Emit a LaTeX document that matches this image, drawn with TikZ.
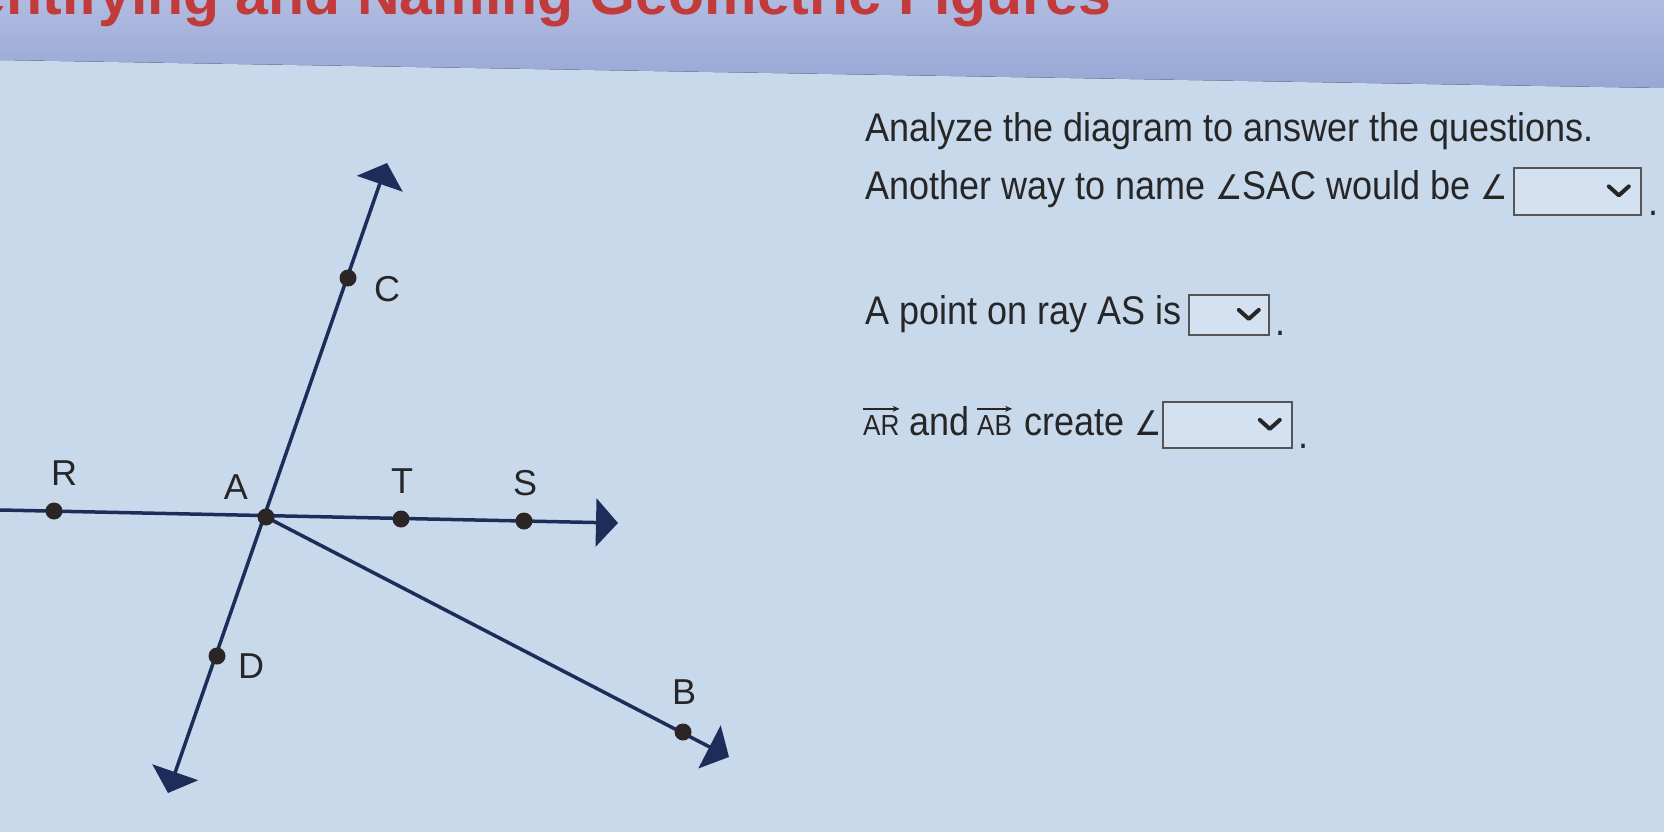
\documentclass[tikz,border=0pt]{standalone}
\usepackage{fontspec}
\setmainfont{Liberation Sans}
\newfontfamily\dejavu{DejaVu Sans}
\usetikzlibrary{arrows.meta}
\definecolor{bgc}{HTML}{C9D9EC}
\definecolor{bandtop}{HTML}{B0BBE0}
\definecolor{bandbot}{HTML}{96A7D5}
\definecolor{rayc}{HTML}{1C2D5A}
\definecolor{dotc}{HTML}{2B2525}
\definecolor{titlec}{HTML}{C23A3A}
\definecolor{txtc}{HTML}{262626}
\definecolor{boxc}{HTML}{555555}
\newcommand{\angsym}{{\dejavu\fontsize{34}{34}\selectfont ∠}}
\tikzset{
  ray/.style={draw=rayc, line width=3.5pt, line cap=round},
  tipbig/.style={-{Triangle[length=22pt,width=48pt]}},
  ptdot/.style={circle, fill=dotc, minimum size=17pt, inner sep=0pt},
  lbl/.style={font=\fontsize{36}{36}\selectfont, text=txtc, inner sep=0pt, anchor=center},
  qtxt/.style={font=\fontsize{40}{40}\selectfont, text=txtc, inner sep=0pt, anchor=base west, xscale=0.9, transform shape},
  vtxt/.style={font=\fontsize{29}{29}\selectfont, text=txtc, inner sep=0pt, anchor=base west, xscale=0.9, transform shape},
  ddbox/.style={draw=boxc, line width=1.8pt, fill=bgc!80!white, inner sep=0pt},
  chev/.style={draw=txtc, line width=4pt, line cap=round, line join=round},
  vecarr/.style={draw=txtc, line width=1.6pt, -{Stealth[length=7pt,width=6pt]}},
}
\begin{document}
\begin{tikzpicture}[x=1pt,y=-1pt]
\useasboundingbox (0,0) rectangle (1664,832);
\clip (0,0) rectangle (1664,832);
\fill[bgc] (0,0) rectangle (1664,832);
% top band
\fill[top color=bandtop, bottom color=bandbot] (0,0) -- (1664,0) -- (1664,88) -- (0,60) -- cycle;
\node[font=\bfseries\fontsize{59}{59}\selectfont, text=titlec, anchor=base west, inner sep=0pt] (title) at (-79,15) {Identifying and Naming Geometric Figures};

% coordinates
\coordinate (Lend) at (0,510);
\coordinate (Send) at (618,523);
\coordinate (Cend) at (387,163);
\coordinate (Dend) at (168,793);
\coordinate (Bend) at (729,757);
\coordinate (Apos) at (266,517);

% rays
\draw[ray, tipbig] (Lend) -- (Send);
\draw[ray, {Triangle[length=22pt,width=48pt]}-{Triangle[length=22pt,width=48pt]}] (Dend) -- (Cend);
\draw[ray, tipbig] (Apos) -- (Bend);

% points
\node[ptdot] (R) at (54,511) {};
\node[ptdot] (A) at (Apos) {};
\node[ptdot] (T) at (401,519) {};
\node[ptdot] (S) at (524,521) {};
\node[ptdot] (C) at (348,278) {};
\node[ptdot] (D) at (217,656) {};
\node[ptdot] (B) at (683,732) {};

% labels
\node[lbl] (lR) at (64,473) {R};
\node[lbl] (lA) at (236,487) {A};
\node[lbl] (lT) at (402,481) {T};
\node[lbl] (lS) at (525,483) {S};
\node[lbl] (lC) at (387,289) {C};
\node[lbl] (lD) at (251,666) {D};
\node[lbl] (lB) at (684,692) {B};

% questions
\node[qtxt] (q1) at (865,141) {Analyze the diagram to answer the questions.};
\node[qtxt] (q2) at (865,199) {Another way to name \angsym SAC would be \angsym};
\node[ddbox, minimum width=127pt, minimum height=47pt, anchor=north west] (box1) at (1513,167) {};
\draw[chev] ([xshift=-33pt,yshift=5pt]box1.east) -- ([xshift=-23pt,yshift=-4pt]box1.east) -- ([xshift=-13pt,yshift=5pt]box1.east);
\node[qtxt] (p1) at (box1.south east) {\,.};

\node[qtxt] (q3) at (865,324) {A point on ray AS is};
\node[ddbox, minimum width=80pt, minimum height=40pt, anchor=north west] (box2) at (1188,294) {};
\draw[chev] ([xshift=-31pt,yshift=5pt]box2.east) -- ([xshift=-21pt,yshift=-4pt]box2.east) -- ([xshift=-11pt,yshift=5pt]box2.east);
\node[qtxt] (p2) at (box2.south east) {\,.};

\node[vtxt] (vAR) at (863,435) {AR};
\draw[vecarr] ([yshift=6pt]vAR.north west) -- ([yshift=6pt]vAR.north east);
\node[qtxt] (q4a) at (909,435) {and};
\node[vtxt] (vAB) at (977,435) {AB};
\draw[vecarr] ([yshift=6pt]vAB.north west) -- ([yshift=6pt]vAB.north east);
\node[qtxt] (q4b) at (1024,435) {create \angsym};
\node[ddbox, minimum width=129pt, minimum height=46pt, anchor=north west] (box3) at (1162,401) {};
\draw[chev] ([xshift=-33pt,yshift=5pt]box3.east) -- ([xshift=-23pt,yshift=-4pt]box3.east) -- ([xshift=-13pt,yshift=5pt]box3.east);
\node[qtxt] (p3) at (box3.south east) {\,.};
\end{tikzpicture}
\end{document}
